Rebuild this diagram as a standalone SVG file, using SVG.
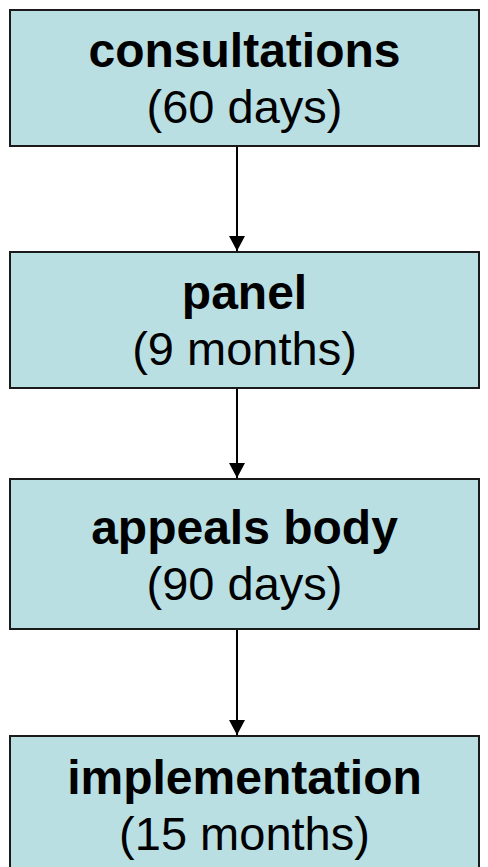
<svg xmlns="http://www.w3.org/2000/svg" width="488" height="867" viewBox="0 0 488 867">
<defs>
<style>
.box{fill:#B9DFE3;stroke:#1a1a1a;stroke-width:2}
.t1{font-family:"Liberation Sans",Arial,sans-serif;font-weight:bold;font-size:48px;text-anchor:middle;fill:#000}
.t2{font-family:"Liberation Sans",Arial,sans-serif;font-size:47px;text-anchor:middle;fill:#000}
.conn{stroke:#000;stroke-width:2;fill:none}
</style>
<marker id="arr" markerUnits="userSpaceOnUse" markerWidth="16" markerHeight="16" viewBox="0 0 16 16" refX="15" refY="8" orient="auto">
<path d="M0,0 L15,8 L0,16 Z" fill="#000"/>
</marker>
</defs>
<rect width="488" height="867" fill="#fff"/>
<g id="connectors">
<line class="conn" x1="237" y1="147" x2="237" y2="251" marker-end="url(#arr)"/>
<line class="conn" x1="237" y1="389" x2="237" y2="478" marker-end="url(#arr)"/>
<line class="conn" x1="237" y1="630" x2="237" y2="735" marker-end="url(#arr)"/>
</g>
<g id="consultations">
<rect class="box" x="10" y="10" width="469" height="136"/>
<text class="t1" x="244.5" y="67">consultations</text>
<text class="t2" x="244.5" y="123">(60 days)</text>
</g>
<g id="panel">
<rect class="box" x="10" y="252" width="469" height="136"/>
<text class="t1" x="244.5" y="309">panel</text>
<text class="t2" x="244.5" y="365">(9 months)</text>
</g>
<g id="appeals-body">
<rect class="box" x="10" y="479" width="469" height="150"/>
<text class="t1" x="244.5" y="544">appeals body</text>
<text class="t2" x="244.5" y="600">(90 days)</text>
</g>
<g id="implementation">
<rect class="box" x="10" y="736" width="469" height="140"/>
<text class="t1" x="244.5" y="794">implementation</text>
<text class="t2" x="244.5" y="850">(15 months)</text>
</g>
</svg>
